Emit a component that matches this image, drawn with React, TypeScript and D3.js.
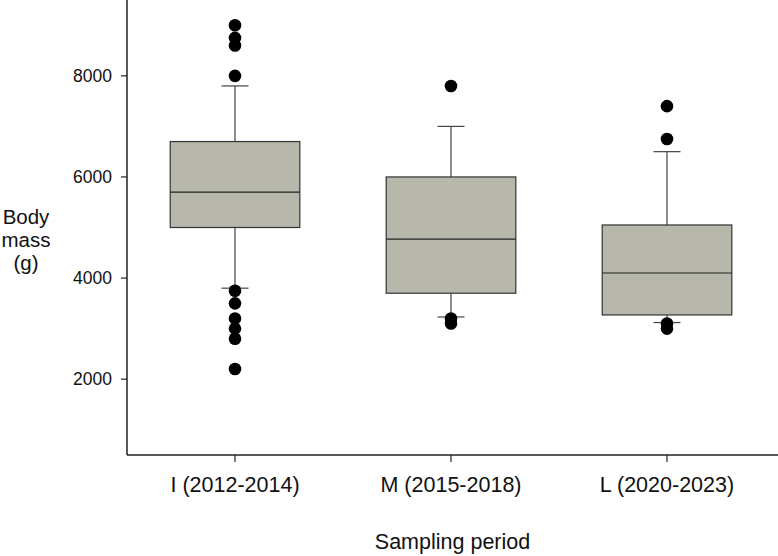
import React from 'react';
import * as d3 from 'd3';

// box summaries (grams)
const periods = ['I (2012-2014)', 'M (2015-2018)', 'L (2020-2023)'];
const whiskerLow = [3800, 3230, 3120];
const q1 = [5000, 3700, 3270];
const median = [5700, 4770, 4100];
const q3 = [6700, 6000, 5050];
const whiskerHigh = [7800, 7000, 6500];
const outliers = [
  [9000, 8750, 8600, 8000, 3750, 3500, 3200, 3000, 2800, 2200],
  [7800, 3200, 3100],
  [7400, 6750, 3100, 3000],
];
const yTicks = [2000, 4000, 6000, 8000];

const W = 778;
const H = 556;
const left = 127;
const right = 775;
const top = 0;
const bottom = 455;
const font = 'Liberation Sans, Arial, sans-serif';

export default function App() {
  const x = d3.scaleBand<string>().domain(periods).range([left, right]).paddingInner(0.4).paddingOuter(0.2);
  const y = d3.scaleLinear().domain([500, 9500]).range([bottom, top]);
  const bw = x.bandwidth();
  const capW = 27;

  return (
    <svg width={W} height={H} style={{ position: 'absolute', left: 0, top: 0 }} fontFamily={font}>
      <rect width={W} height={H} fill="#fff" />
      {periods.map((p, i) => {
        const cx = x(p)! + bw / 2;
        return (
          <g key={p}>
            <line x1={cx} x2={cx} y1={y(whiskerHigh[i])} y2={y(q3[i])} stroke="#444" strokeWidth={1.2} />
            <line x1={cx} x2={cx} y1={y(q1[i])} y2={y(whiskerLow[i])} stroke="#444" strokeWidth={1.2} />
            <line x1={cx - capW / 2} x2={cx + capW / 2} y1={y(whiskerHigh[i])} y2={y(whiskerHigh[i])} stroke="#444" strokeWidth={1.2} />
            <line x1={cx - capW / 2} x2={cx + capW / 2} y1={y(whiskerLow[i])} y2={y(whiskerLow[i])} stroke="#444" strokeWidth={1.2} />
            <rect x={x(p)} y={y(q3[i])} width={bw} height={y(q1[i]) - y(q3[i])} fill="#b7b7ab" stroke="#333" strokeWidth={1.2} />
            <line x1={x(p)} x2={x(p)! + bw} y1={y(median[i])} y2={y(median[i])} stroke="#222" strokeWidth={1.2} />
            {outliers[i].map((v, j) => (
              <circle key={j} cx={cx} cy={y(v)} r={6.3} fill="#000" />
            ))}
          </g>
        );
      })}

      {/* axes */}
      <line x1={left} x2={left} y1={top} y2={bottom} stroke="#222" strokeWidth={1.5} />
      <line x1={left} x2={W} y1={bottom} y2={bottom} stroke="#222" strokeWidth={1.5} />
      {yTicks.map(t => (
        <g key={t}>
          <line x1={left - 6} x2={left} y1={y(t)} y2={y(t)} stroke="#222" strokeWidth={1.2} />
          <text x={left - 15} y={y(t)} dy="0.35em" textAnchor="end" fontSize={17.5} fill="#111">{t}</text>
        </g>
      ))}
      {periods.map(p => {
        const cx = x(p)! + bw / 2;
        return (
          <g key={p}>
            <line x1={cx} x2={cx} y1={bottom} y2={bottom + 7} stroke="#222" strokeWidth={1.2} />
            <text x={cx} y={492} textAnchor="middle" fontSize={21.5} fill="#111">{p}</text>
          </g>
        );
      })}
      <text x={452.5} y={549} textAnchor="middle" fontSize={21.5} fill="#111">Sampling period</text>
      <text textAnchor="middle" fontSize={20.5} fill="#111">
        <tspan x={26} y={224}>Body</tspan>
        <tspan x={26} y={247}>mass</tspan>
        <tspan x={26} y={270}>(g)</tspan>
      </text>
    </svg>
  );
}
